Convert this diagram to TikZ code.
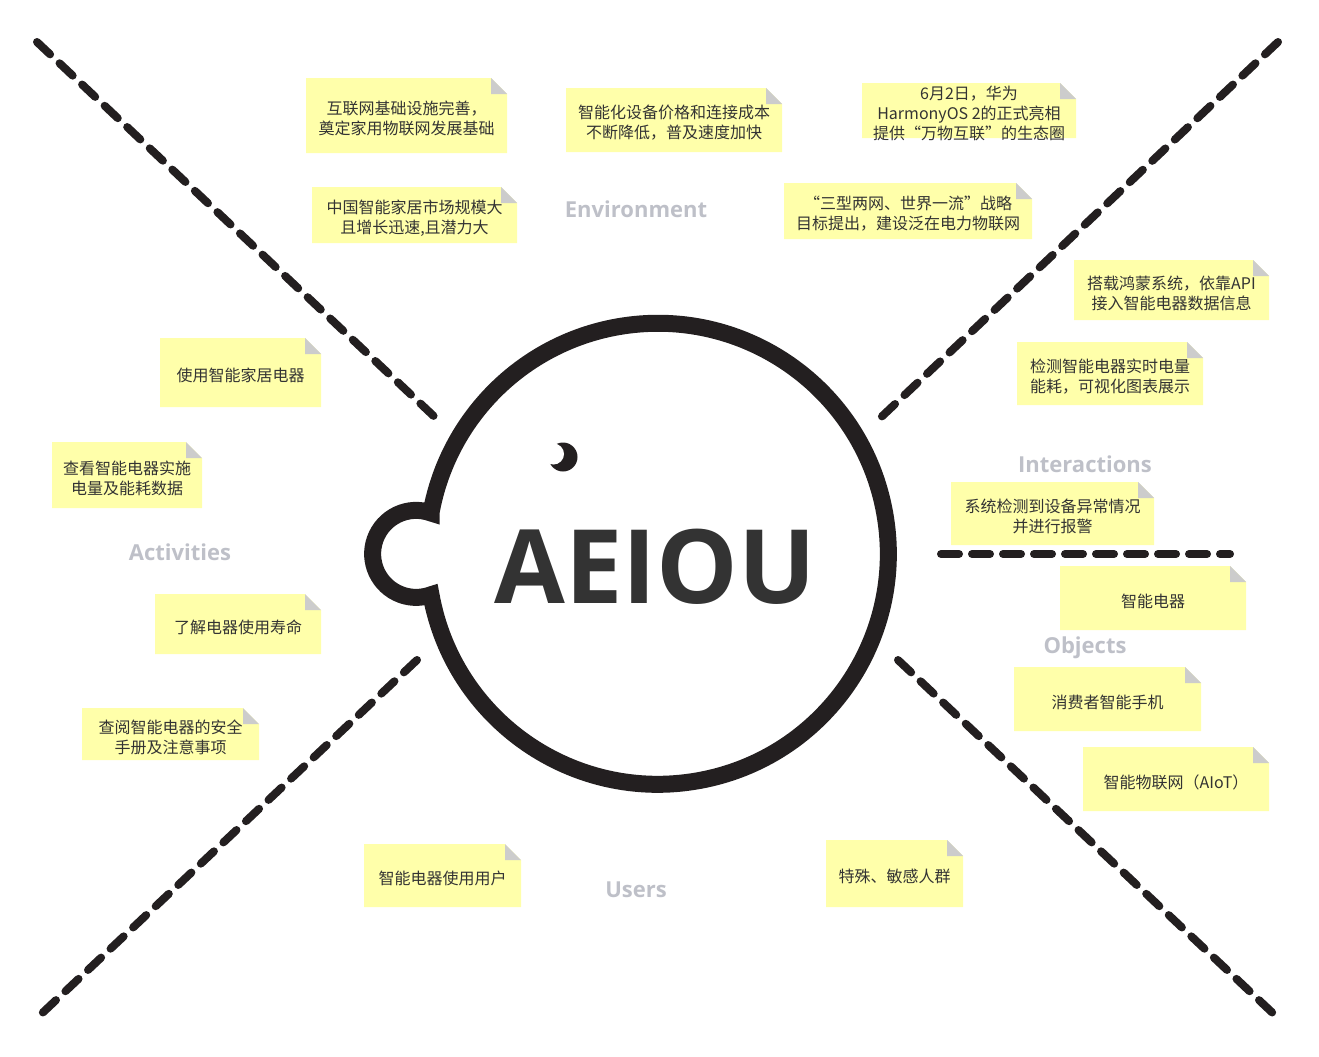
\documentclass[tikz,border=0pt]{standalone}
\usepackage{fontspec}
\setmainfont{Open Sans}
\newfontfamily\cjkfont{Noto Sans CJK SC}
\usetikzlibrary{calc}

\definecolor{inkblack}{RGB}{35,31,32}
\definecolor{notefill}{RGB}{255,255,170}
\definecolor{notefold}{RGB}{204,204,204}
\definecolor{notetext}{RGB}{51,51,51}
\definecolor{aspectgray}{RGB}{190,192,200}
\definecolor{titlegray}{RGB}{51,51,51}

\tikzset{every picture/.style={line width=0.75pt}}
\tikzset{
  divider/.style={color=inkblack, line width=6pt, line cap=round, dash pattern=on 13.5pt off 9.75pt},
  stickytext/.style={inner sep=0.75pt, align=center, text=notetext, font=\cjkfont\fontsize{12pt}{15pt}\selectfont},
  aspect/.style={anchor=base, inner sep=0pt, text=aspectgray, font=\bfseries\fontsize{16.5pt}{20pt}\selectfont},
}

% sticky note: name, left, top, right, bottom, text
\newcommand{\stickynote}[6]{%
  \fill[notefill] (#2,#3) -- ({#4-16},#3) -- (#4,{#3+16}) -- (#4,#5) -- (#2,#5) -- cycle;
  \fill[notefold] ({#4-16},#3) -- (#4,{#3+16}) -- ({#4-16},{#3+16}) -- cycle;
  \node[stickytext] (#1) at ({(#2+#4)/2},{(#3+#5)/2+3}) {#6};
}

\begin{document}
\begin{tikzpicture}[x=0.75pt,y=0.75pt,yscale=-1,xscale=1]
\useasboundingbox (0,0) rectangle (1319,1056);

% dividers
\coordinate (ulA) at (37,42);    \coordinate (ulB) at (440,422);
\coordinate (urA) at (1278,42);  \coordinate (urB) at (876,422);
\coordinate (llA) at (417,660);  \coordinate (llB) at (37,1018);
\coordinate (lrA) at (898,660);  \coordinate (lrB) at (1278,1018);
\coordinate (hzA) at (941,554);  \coordinate (hzB) at (1230,554);
\draw[divider] (ulA) -- (ulB);
\draw[divider] (urA) -- (urB);
\draw[divider] (llA) -- (llB);
\draw[divider] (lrA) -- (lrB);
\draw[divider] (hzA) -- (hzB);

% head with ear
\draw[inkblack, line width=12.75pt] (431,513) arc[start angle=-70, end angle=-290, radius=43.5]
  arc[start angle=169.76, end angle=-169.76, radius=230.5] -- cycle;
% eye
\fill[inkblack] (563,457) circle[radius=14.5];
\fill[white] (553.5,454) circle[radius=10.5];

\node[anchor=base, inner sep=0pt, text=titlegray, font=\bfseries\fontsize{77pt}{90pt}\selectfont] (title) at (655,603) {AEIOU};

% aspect labels
\node[aspect] (environment) at (636,217) {Environment};
\node[aspect] (activities) at (180,560) {Activities};
\node[aspect] (interactions) at (1085,472) {Interactions};
\node[aspect] (objects) at (1085,653) {Objects};
\node[aspect] (users) at (636,897) {Users};

% Environment
\stickynote{envA}{306}{78}{507}{153}{互联网基础设施完善，\\奠定家用物联网发展基础}
\stickynote{envB}{566}{88}{782}{152}{智能化设备价格和连接成本\\不断降低，普及速度加快}
\stickynote{envC}{312}{187}{517}{243}{中国智能家居市场规模大\\且增长迅速,且潜力大}
\stickynote{envD}{862}{83}{1076}{138}{6月2日，华为\\HarmonyOS 2的正式亮相\\提供“万物互联”的生态圈}
\stickynote{envE}{784}{183}{1032}{239}{“三型两网、世界一流”战略\\目标提出，建设泛在电力物联网}
% Interactions
\stickynote{intA}{1074}{260}{1269}{320}{搭载鸿蒙系统，依靠API\\接入智能电器数据信息}
\stickynote{intB}{1017}{342}{1203}{405}{检测智能电器实时电量\\能耗，可视化图表展示}
\stickynote{intC}{951}{482}{1154}{545}{系统检测到设备异常情况\\并进行报警}
% Objects
\stickynote{objA}{1060}{566}{1246}{630}{智能电器}
\stickynote{objB}{1014}{667}{1201}{731}{消费者智能手机}
\stickynote{objC}{1083}{747}{1269}{811}{智能物联网（AIoT）}
% Users
\stickynote{usrA}{364}{844}{521}{907}{智能电器使用用户}
\stickynote{usrB}{826}{840}{963}{907}{特殊、敏感人群}
% Activities
\stickynote{actA}{160}{338}{321}{407}{使用智能家居电器}
\stickynote{actB}{52}{442}{202}{508}{查看智能电器实施\\电量及能耗数据}
\stickynote{actC}{155}{594}{321}{654}{了解电器使用寿命}
\stickynote{actD}{82}{708}{259}{760}{查阅智能电器的安全\\手册及注意事项}

\end{tikzpicture}
\end{document}
